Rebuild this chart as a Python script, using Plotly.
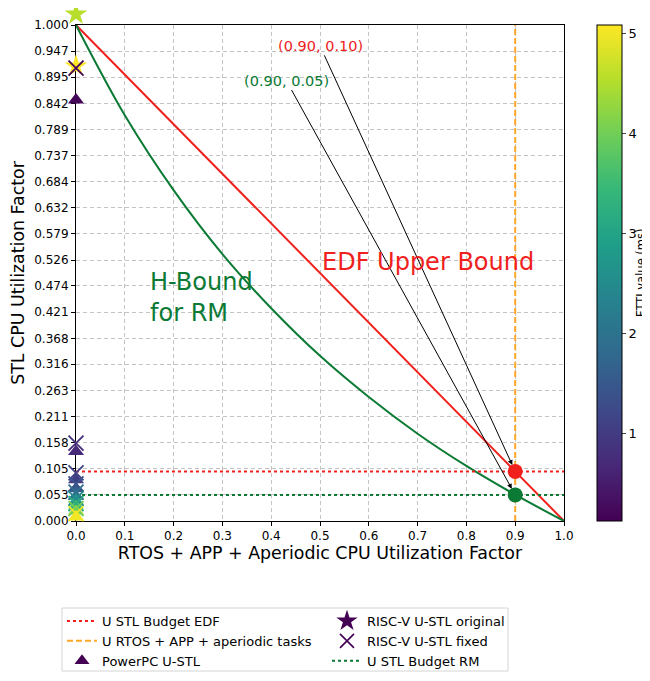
import plotly.graph_objects as go

# ---------------- data ----------------
x_ticks = [0.0, 0.1, 0.2, 0.3, 0.4, 0.5, 0.6, 0.7, 0.8, 0.9, 1.0]
x_tick_labels = ["0.0", "0.1", "0.2", "0.3", "0.4", "0.5", "0.6", "0.7", "0.8", "0.9", "1.0"]
y_tick_labels = ["0.000", "0.053", "0.105", "0.158", "0.211", "0.263", "0.316", "0.368",
                 "0.421", "0.474", "0.526", "0.579", "0.632", "0.684", "0.737", "0.789",
                 "0.842", "0.895", "0.947", "1.000"]

edf_x = [0.0, 1.0]
edf_y = [1.0, 0.0]

hb_x = [0.0, 0.1, 0.2, 0.3, 0.4, 0.5, 0.6, 0.7, 0.8, 0.9, 1.0]
hb_y = [1.0, 0.818, 0.667, 0.538, 0.429, 0.333, 0.25, 0.176, 0.111, 0.053, 0.0]

edf_budget = 0.10
rm_budget = 0.0526
rtos_util = 0.90

ppc_y = [0.849, 0.140, 0.083, 0.065, 0.050, 0.040, 0.030, 0.020, 0.008]
ppc_ftti = [0.2, 0.7, 1.05, 1.6, 2.2, 2.9, 3.6, 4.4, 5.0]

rv_orig_y = [1.022, 0.917]
rv_orig_ftti = [4.55, 5.1]

rv_fixed_y = [0.913, 0.157, 0.097, 0.075, 0.058, 0.045, 0.035, 0.025, 0.015]
rv_fixed_ftti = [0.2, 0.8, 1.1, 1.4, 1.9, 2.5, 3.2, 4.0, 5.0]

ftti_min, ftti_max = 0.12, 5.08
cbar_ticks = [1, 2, 3, 4, 5]

RED = "#f0211c"
GREEN = "#0b7a34"
ORANGE = "#ffa726"
DARK = "#440154"
FONT = "DejaVu Sans"

# ---------------- pixel layout (page has an 8px body margin) ----------------
OFF = 8
W, H = 650 - OFF, 681 - 2 * OFF
PL, PR, PT, PB = 76 - OFF, 564 - OFF, 25 - OFF, 521 - OFF   # plot area in figure px
TOP_M = 2
PAPER_H = PB - TOP_M
PW = PR - PL


def px_x(screen_px):
    return (screen_px - OFF - PL) / PW


def px_y(screen_py):
    return (PB - (screen_py - OFF)) / PAPER_H


main_frac = (PB - PT) / PAPER_H

fig = go.Figure()

# bounds
fig.add_trace(go.Scatter(x=edf_x, y=edf_y, mode="lines", line=dict(color=RED, width=2),
                         showlegend=False, hoverinfo="skip"))
fig.add_trace(go.Scatter(x=hb_x, y=hb_y, mode="lines", line=dict(color=GREEN, width=2, shape="spline"),
                         showlegend=False, hoverinfo="skip"))

# budget lines
fig.add_trace(go.Scatter(x=[0, 1], y=[edf_budget, edf_budget], mode="lines",
                         line=dict(color=RED, width=2, dash="dot"),
                         name="U STL Budget EDF", legend="legend", legendrank=1))
fig.add_trace(go.Scatter(x=[rtos_util, rtos_util], y=[0, 1], mode="lines",
                         line=dict(color=ORANGE, width=2, dash="6px,3px"),
                         name="U RTOS + APP + aperiodic tasks", legend="legend", legendrank=2))
fig.add_trace(go.Scatter(x=[0, 1], y=[rm_budget, rm_budget], mode="lines",
                         line=dict(color=GREEN, width=2, dash="dot"),
                         name="U STL Budget RM", legend="legend2", legendrank=6))

# intersection points
fig.add_trace(go.Scatter(x=[rtos_util], y=[edf_budget], mode="markers",
                         marker=dict(color=RED, size=15), showlegend=False))
fig.add_trace(go.Scatter(x=[rtos_util], y=[rm_budget], mode="markers",
                         marker=dict(color=GREEN, size=15), showlegend=False))

# measured markers (on a hidden, taller overlay subplot so points above 1.0 are still drawn)
fig.add_trace(go.Scatter(x=[0.0] * len(ppc_y), y=ppc_y, mode="markers", cliponaxis=False,
                         xaxis="x2", yaxis="y2",
                         marker=dict(symbol="triangle-up", size=14, color=ppc_ftti, coloraxis="coloraxis",
                                     line=dict(width=0)),
                         showlegend=False))
fig.add_trace(go.Scatter(x=[0.0] * len(rv_orig_y), y=rv_orig_y, mode="markers", cliponaxis=False,
                         xaxis="x2", yaxis="y2",
                         marker=dict(symbol="star", size=17, color=rv_orig_ftti, coloraxis="coloraxis",
                                     line=dict(width=0)),
                         showlegend=False))
fig.add_trace(go.Scatter(x=[0.0] * len(rv_fixed_y), y=rv_fixed_y, mode="markers", cliponaxis=False,
                         xaxis="x2", yaxis="y2",
                         marker=dict(symbol="x-thin-open", size=15, color=rv_fixed_ftti,
                                     coloraxis="coloraxis", line=dict(width=1.8)),
                         showlegend=False))

# legend entries for the marker series
fig.add_trace(go.Scatter(x=[None], y=[None], mode="markers",
                         marker=dict(symbol="triangle-up", size=13, color=DARK),
                         name="PowerPC U-STL", legend="legend", legendrank=3))
fig.add_trace(go.Scatter(x=[None], y=[None], mode="markers",
                         marker=dict(symbol="star", size=16, color=DARK),
                         name="RISC-V U-STL original", legend="legend2", legendrank=4))
fig.add_trace(go.Scatter(x=[None], y=[None], mode="markers",
                         marker=dict(symbol="x-thin-open", size=14, color=DARK,
                                     line=dict(width=1.6, color=DARK)),
                         name="RISC-V U-STL fixed", legend="legend2", legendrank=5))

# annotations
fig.add_annotation(x=rtos_util, y=edf_budget, ax=0.50, ay=0.958, axref="x", ayref="y",
                   xref="x", yref="y", text="(0.90, 0.10)", showarrow=True,
                   arrowhead=2, arrowsize=1, arrowwidth=1, arrowcolor="black", standoff=7,
                   font=dict(family=FONT, size=14.5, color=RED))
fig.add_annotation(x=rtos_util, y=rm_budget, ax=0.431, ay=0.888, axref="x", ayref="y",
                   xref="x", yref="y", text="(0.90, 0.05)", showarrow=True,
                   arrowhead=2, arrowsize=1, arrowwidth=1, arrowcolor="black", standoff=7,
                   font=dict(family=FONT, size=14.5, color=GREEN))
fig.add_annotation(x=0.5, y=0.522, xref="x", yref="y", text="EDF Upper Bound", showarrow=False,
                   xanchor="left", font=dict(family=FONT, size=24, color=RED))
fig.add_annotation(x=0.148, y=0.45, xref="x", yref="y", text="H-Bound<br>for RM", showarrow=False,
                   xanchor="left", align="left", font=dict(family=FONT, size=24, color=GREEN))

# colorbar label
fig.add_annotation(x=px_x(641), y=px_y(273), xref="paper", yref="paper", text="FTTI value (ms)",
                   textangle=-90, showarrow=False, xanchor="center", yanchor="middle",
                   borderpad=0, font=dict(family=FONT, size=11.5, color="black"))

# legend frame
fig.add_shape(type="rect", xref="paper", yref="paper",
              x0=px_x(62), x1=px_x(508), y0=px_y(671), y1=px_y(608),
              line=dict(color="#d4d4d4", width=1), fillcolor="rgba(255,255,255,0)", layer="below")

axis_common = dict(showline=True, linecolor="black", linewidth=1, mirror=True,
                   ticks="outside", ticklen=4, tickcolor="black",
                   showgrid=True, gridcolor="#c4c4c4", griddash="4px,3px", gridwidth=0.8,
                   zeroline=False, tickfont=dict(family=FONT, size=12, color="black"))

legend_common = dict(orientation="v", yanchor="top", xanchor="left", bgcolor="rgba(0,0,0,0)",
                     borderwidth=0, font=dict(family=FONT, size=13), tracegroupgap=0)

fig.update_layout(
    width=W, height=H,
    margin=dict(l=PL, r=W - PR, t=TOP_M, b=H - PB, autoexpand=False),
    paper_bgcolor="white", plot_bgcolor="rgba(0,0,0,0)",
    font=dict(family=FONT, color="black"),
    xaxis=dict(range=[0, 1], tickvals=x_ticks, ticktext=x_tick_labels,
               title=dict(text="RTOS + APP + Aperiodic CPU Utilization Factor",
                          font=dict(family=FONT, size=17.4), standoff=4),
               **axis_common),
    yaxis=dict(range=[0, 1], domain=[0, main_frac], tickvals=[float(s) for s in y_tick_labels],
               ticktext=y_tick_labels,
               title=dict(text="STL CPU Utilization Factor", font=dict(family=FONT, size=17.4), standoff=6),
               **axis_common),
    xaxis2=dict(range=[0, 1], domain=[0, 1], anchor="y2", visible=False,
                showgrid=False, zeroline=False, fixedrange=True),
    yaxis2=dict(range=[0, 1 / main_frac], domain=[0, 1], anchor="x2", visible=False,
                showgrid=False, zeroline=False, fixedrange=True),
    coloraxis=dict(colorscale="Viridis", cmin=ftti_min, cmax=ftti_max,
                   colorbar=dict(x=px_x(597), xanchor="left", xpad=0, ypad=0, y=0, yanchor="bottom",
                                 len=main_frac, lenmode="fraction", thickness=25,
                                 outlinecolor="black", outlinewidth=1,
                                 tickvals=cbar_ticks, ticks="outside", ticklen=4,
                                 tickfont=dict(family=FONT, size=13))),
    legend=dict(x=px_x(103 - 41), y=px_y(621 - 15), **legend_common),
    legend2=dict(x=px_x(368 - 41), y=px_y(621 - 15), **legend_common),
)

fig.write_html("out.html")
